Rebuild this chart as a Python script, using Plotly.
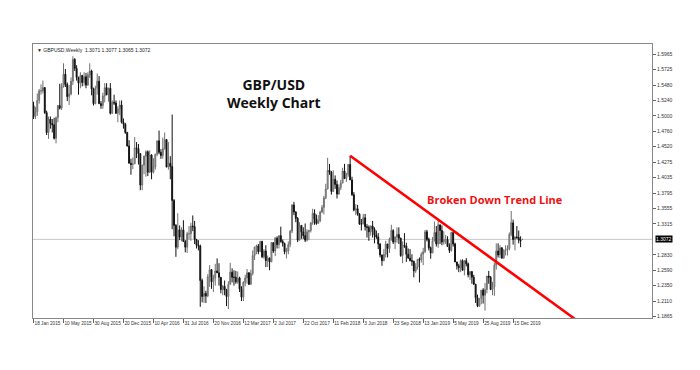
import pandas as pd
import plotly.graph_objects as go

# ---- weekly bars (week starting Sunday), 18 Jan 2015 .. 19 Jan 2020 ----
start_week = "2015-01-18"
opens = [
1.5160,1.4990,1.5060,1.5240,1.5390,1.5390,1.5440,1.5050,1.4740,1.4950,1.4880,1.4860,1.4650,1.4970,1.5160,1.5120,1.5460,1.5650,1.5490,1.5300,
1.5340,1.5540,1.5880,1.5740,1.5600,1.5510,1.5630,1.5520,1.5610,1.5480,1.5640,1.5700,1.5420,1.5190,1.5430,1.5540,1.5190,1.5160,1.5310,1.5440,
1.5330,1.5430,1.5040,1.5210,1.5200,1.5040,1.5110,1.5170,1.4900,1.4870,1.4740,1.4530,1.4260,1.4240,1.4250,1.4500,1.4490,1.4410,1.3920,1.4230,
1.4370,1.4440,1.4120,1.4390,1.4120,1.4200,1.4400,1.4610,1.4430,1.4380,1.4490,1.4630,1.4200,1.4260,1.4210,1.3680,1.3290,1.2950,1.3220,1.3110,
1.3220,1.3040,1.2950,1.3160,1.3160,1.3280,1.3270,1.3070,1.2980,1.2970,1.2430,1.2180,1.2230,1.2190,1.2490,1.2600,1.2410,1.2470,1.2580,1.2550,
1.2480,1.2290,1.2340,1.2280,1.2180,1.2370,1.2560,1.2480,1.2480,1.2410,1.2470,1.2300,1.2170,1.2400,1.2470,1.2550,1.2370,1.2540,1.2820,1.2950,
1.2970,1.2880,1.3040,1.2800,1.2890,1.2740,1.2780,1.2720,1.3020,1.2890,1.3090,1.2990,1.3130,1.3040,1.3010,1.2880,1.2890,1.2990,1.3200,1.3610,
1.3500,1.3400,1.3060,1.3290,1.3190,1.3130,1.3060,1.3190,1.3210,1.3330,1.3480,1.3390,1.3320,1.3360,1.3500,1.3570,1.3720,1.3860,1.4150,1.4120,
1.3820,1.4010,1.3930,1.3780,1.3880,1.3950,1.4140,1.4020,1.4090,1.4240,1.4000,1.3770,1.3530,1.3550,1.3470,1.3310,1.3310,1.3410,1.3270,1.3260,
1.3190,1.3280,1.3230,1.3140,1.3110,1.3000,1.2830,1.2740,1.2840,1.3000,1.2930,1.3080,1.3210,1.3030,1.3110,1.3150,1.3090,1.2820,1.2980,1.2970,
1.2840,1.2780,1.2740,1.2730,1.2580,1.2640,1.2760,1.2750,1.2840,1.2880,1.3190,1.3070,1.2940,1.2860,1.3050,1.3180,1.3000,1.3300,1.3210,1.3030,
1.3070,1.3070,1.2960,1.2900,1.3180,1.3000,1.2720,1.2660,1.2630,1.2740,1.2590,1.2740,1.2690,1.2520,1.2570,1.2480,1.2370,1.2160,1.2030,1.2150,
1.2280,1.2200,1.2290,1.2500,1.2480,1.2290,1.2330,1.2670,1.2890,1.2830,1.2940,1.2780,1.2900,1.2910,1.2930,1.3150,1.3330,1.3070,1.3110,1.3100,
1.3060,1.3071]
highs = [
1.5220,1.5140,1.5350,1.5420,1.5490,1.5550,1.5450,1.5080,1.4990,1.4990,1.4950,1.4970,1.4990,1.5170,1.5500,1.5510,1.5820,1.5730,1.5520,1.5480,
1.5600,1.5930,1.5900,1.5790,1.5610,1.5680,1.5640,1.5680,1.5670,1.5680,1.5820,1.5720,1.5440,1.5470,1.5660,1.5620,1.5230,1.5360,1.5510,1.5510,
1.5440,1.5510,1.5240,1.5330,1.5240,1.5150,1.5240,1.5240,1.4960,1.4890,1.4750,1.4620,1.4330,1.4350,1.4670,1.4590,1.4560,1.4420,1.4240,1.4380,
1.4460,1.4460,1.4460,1.4400,1.4340,1.4410,1.4610,1.4770,1.4480,1.4660,1.4740,1.4630,1.4590,1.4370,1.5020,1.3700,1.3310,1.3480,1.3290,1.3260,
1.3370,1.3060,1.3190,1.3280,1.3330,1.3445,1.3360,1.3080,1.3060,1.2990,1.2460,1.2340,1.2270,1.2530,1.2670,1.2610,1.2520,1.2690,1.2775,1.2700,
1.2480,1.2360,1.2430,1.2300,1.2420,1.2706,1.2620,1.2590,1.2580,1.2570,1.2490,1.2340,1.2420,1.2520,1.2610,1.2560,1.2600,1.2900,1.2960,1.2990,
1.3000,1.3050,1.3050,1.2920,1.2980,1.2820,1.2790,1.3030,1.3030,1.3110,1.3120,1.3130,1.3270,1.3070,1.3020,1.2940,1.3040,1.3220,1.3620,1.3657,
1.3510,1.3420,1.3340,1.3290,1.3260,1.3320,1.3230,1.3220,1.3340,1.3550,1.3540,1.3460,1.3450,1.3520,1.3610,1.3750,1.3940,1.4345,1.4250,1.4140,
1.4150,1.4070,1.3990,1.3930,1.4000,1.4190,1.4250,1.4110,1.4250,1.4377,1.4050,1.3810,1.3620,1.3610,1.3480,1.3390,1.3470,1.3470,1.3310,1.3290,
1.3290,1.3360,1.3260,1.3210,1.3170,1.3010,1.2830,1.2920,1.3050,1.3000,1.3100,1.3300,1.3230,1.3120,1.3260,1.3260,1.3100,1.3040,1.3170,1.3020,
1.2930,1.2920,1.2840,1.2740,1.2700,1.2740,1.2790,1.2870,1.2940,1.3220,1.3220,1.3100,1.2960,1.3110,1.3350,1.3280,1.3380,1.3300,1.3290,1.3200,
1.3140,1.3120,1.3010,1.3180,1.3180,1.3020,1.2720,1.2690,1.2760,1.2760,1.2750,1.2780,1.2710,1.2570,1.2570,1.2520,1.2380,1.2210,1.2160,1.2280,
1.2310,1.2390,1.2500,1.2580,1.2500,1.2410,1.2710,1.3010,1.3010,1.2980,1.2950,1.2920,1.2980,1.2980,1.3180,1.3515,1.3380,1.3120,1.3280,1.3210,
1.3120,1.3077]
lows = [
1.4950,1.4950,1.5000,1.5190,1.5330,1.5350,1.5030,1.4700,1.4640,1.4800,1.4740,1.4630,1.4570,1.4900,1.5100,1.5090,1.5440,1.5450,1.5230,1.5170,
1.5320,1.5480,1.5700,1.5550,1.5330,1.5430,1.5460,1.5470,1.5430,1.5470,1.5590,1.5320,1.5160,1.5180,1.5330,1.5190,1.5110,1.5110,1.5210,1.5320,
1.5220,1.5020,1.5030,1.5170,1.5030,1.4900,1.5010,1.4880,1.4800,1.4720,1.4520,1.4260,1.4080,1.4170,1.4250,1.4340,1.4240,1.3840,1.3840,1.4090,
1.4050,1.4060,1.4110,1.4010,1.4100,1.4160,1.4370,1.4400,1.4330,1.4330,1.4470,1.4200,1.4160,1.4010,1.3230,1.3120,1.2800,1.2920,1.3060,1.3040,
1.3030,1.2870,1.2860,1.3070,1.3050,1.3200,1.3000,1.2930,1.2900,1.2020,1.2090,1.2080,1.2080,1.2170,1.2330,1.2300,1.2250,1.2350,1.2560,1.2350,
1.2230,1.2200,1.2200,1.2030,1.1985,1.2370,1.2400,1.2350,1.2380,1.2380,1.2250,1.2110,1.2110,1.2340,1.2380,1.2360,1.2370,1.2510,1.2750,1.2840,
1.2840,1.2880,1.2780,1.2770,1.2640,1.2640,1.2590,1.2720,1.2860,1.2810,1.2930,1.2930,1.3020,1.2960,1.2840,1.2775,1.2840,1.2950,1.3170,1.3450,
1.3340,1.3030,1.3060,1.3080,1.3080,1.3030,1.3040,1.3060,1.3180,1.3300,1.3300,1.3300,1.3320,1.3340,1.3480,1.3460,1.3700,1.3850,1.4080,1.3770,
1.3810,1.3860,1.3710,1.3770,1.3840,1.3950,1.4020,1.3970,1.4050,1.4000,1.3750,1.3510,1.3450,1.3440,1.3300,1.3210,1.3310,1.3210,1.3100,1.3050,
1.3130,1.3100,1.3010,1.3080,1.2920,1.2790,1.2660,1.2730,1.2790,1.2790,1.2860,1.3050,1.3000,1.2920,1.3020,1.3000,1.2800,1.2700,1.2940,1.2720,
1.2770,1.2730,1.2660,1.2480,1.2550,1.2600,1.2400,1.2710,1.2670,1.2860,1.3040,1.2900,1.2770,1.2860,1.3040,1.2960,1.2940,1.3000,1.2980,1.2990,
1.3000,1.2960,1.2860,1.2880,1.2960,1.2730,1.2600,1.2560,1.2560,1.2580,1.2510,1.2650,1.2480,1.2440,1.2380,1.2370,1.2080,1.2015,1.2020,1.2060,
1.2070,1.1960,1.2230,1.2380,1.2280,1.2200,1.2190,1.2600,1.2790,1.2780,1.2770,1.2770,1.2820,1.2820,1.2900,1.3120,1.2990,1.2900,1.3080,1.3010,
1.2950,1.3065]
closes = [
1.4990,1.5060,1.5240,1.5390,1.5390,1.5440,1.5050,1.4740,1.4950,1.4880,1.4860,1.4650,1.4970,1.5160,1.5120,1.5460,1.5650,1.5490,1.5300,1.5340,
1.5540,1.5880,1.5740,1.5600,1.5510,1.5630,1.5520,1.5610,1.5480,1.5640,1.5700,1.5420,1.5190,1.5430,1.5540,1.5190,1.5160,1.5310,1.5440,1.5330,
1.5430,1.5040,1.5210,1.5200,1.5040,1.5110,1.5170,1.4900,1.4870,1.4740,1.4530,1.4260,1.4240,1.4250,1.4500,1.4490,1.4410,1.3920,1.4230,1.4370,
1.4440,1.4120,1.4390,1.4120,1.4200,1.4400,1.4610,1.4430,1.4380,1.4490,1.4630,1.4200,1.4260,1.4210,1.3680,1.3290,1.2950,1.3220,1.3110,1.3220,
1.3040,1.2950,1.3160,1.3160,1.3280,1.3270,1.3070,1.2980,1.2970,1.2430,1.2180,1.2230,1.2190,1.2490,1.2600,1.2410,1.2470,1.2580,1.2550,1.2480,
1.2290,1.2340,1.2280,1.2180,1.2370,1.2560,1.2480,1.2480,1.2410,1.2470,1.2300,1.2170,1.2400,1.2470,1.2550,1.2370,1.2540,1.2820,1.2950,1.2970,
1.2880,1.3040,1.2800,1.2890,1.2740,1.2780,1.2720,1.3020,1.2890,1.3090,1.2990,1.3130,1.3040,1.3010,1.2880,1.2890,1.2990,1.3200,1.3610,1.3500,
1.3400,1.3060,1.3290,1.3190,1.3130,1.3060,1.3190,1.3210,1.3330,1.3480,1.3390,1.3320,1.3360,1.3500,1.3570,1.3720,1.3860,1.4150,1.4120,1.3820,
1.4010,1.3930,1.3780,1.3880,1.3950,1.4140,1.4020,1.4090,1.4240,1.4000,1.3770,1.3530,1.3550,1.3470,1.3310,1.3310,1.3410,1.3270,1.3260,1.3190,
1.3280,1.3230,1.3140,1.3110,1.3000,1.2830,1.2740,1.2840,1.3000,1.2930,1.3080,1.3210,1.3030,1.3110,1.3150,1.3090,1.2820,1.2980,1.2970,1.2840,
1.2780,1.2740,1.2730,1.2580,1.2640,1.2760,1.2750,1.2840,1.2880,1.3190,1.3070,1.2940,1.2860,1.3050,1.3180,1.3000,1.3300,1.3210,1.3030,1.3070,
1.3070,1.2960,1.2900,1.3180,1.3000,1.2720,1.2660,1.2630,1.2740,1.2590,1.2740,1.2690,1.2520,1.2570,1.2480,1.2370,1.2160,1.2030,1.2150,1.2280,
1.2200,1.2290,1.2500,1.2480,1.2290,1.2330,1.2670,1.2890,1.2830,1.2940,1.2780,1.2900,1.2910,1.2930,1.3150,1.3330,1.3070,1.3110,1.3100,1.3060,
1.3050,1.3072]

weeks = pd.date_range(start_week, periods=len(closes), freq="7D")

# ---- axis ticks ----
x_tick_dates = ["2015-01-18", "2015-05-10", "2015-08-30", "2015-12-20", "2016-04-10", "2016-07-31",
                "2016-11-20", "2017-03-12", "2017-07-02", "2017-10-22", "2018-02-11", "2018-06-03",
                "2018-09-23", "2019-01-13", "2019-05-05", "2019-08-25", "2019-12-15"]
x_tick_labels = ["18 Jan 2015", "10 May 2015", "30 Aug 2015", "20 Dec 2015", "10 Apr 2016", "31 Jul 2016",
                 "20 Nov 2016", "12 Mar 2017", "2 Jul 2017", "22 Oct 2017", "11 Feb 2018", "3 Jun 2018",
                 "23 Sep 2018", "13 Jan 2019", "5 May 2019", "25 Aug 2019", "15 Dec 2019"]
y_ticks = [1.5965, 1.5725, 1.5480, 1.5240, 1.5000, 1.4760, 1.4520, 1.4275, 1.4035,
           1.3795, 1.3555, 1.3315, 1.2830, 1.2590, 1.2350, 1.2110, 1.1865]
current_price = 1.3072
header = "\u25BC GBPUSD,Weekly  1.3071 1.3077 1.3065 1.3072"

# ---- trend line (through Apr-2018 and Mar-2019 highs, extended) ----
trend_dates = ["2018-04-15", "2020-08-02"]
trend_prices = [1.4377, 1.1830]

fig = go.Figure()
fig.add_trace(go.Candlestick(
    x=weeks, open=opens, high=highs, low=lows, close=closes,
    increasing=dict(line=dict(color="#707070", width=1), fillcolor="#b8b8b8"),
    decreasing=dict(line=dict(color="#111111", width=1), fillcolor="#111111"),
    whiskerwidth=0, showlegend=False, hoverinfo="skip"))

fig.add_trace(go.Scatter(x=trend_dates, y=trend_prices, mode="lines",
                         line=dict(color="#ff0000", width=2.6), showlegend=False, hoverinfo="skip"))

fig.add_shape(type="line", xref="paper", x0=0, x1=1, yref="y", y0=current_price, y1=current_price,
              line=dict(color="#c8c8c8", width=1), layer="below")

fig.add_annotation(xref="paper", yref="y", x=1, y=current_price, xanchor="left", yanchor="middle",
                   xshift=3, text=f"{current_price:.4f}", showarrow=False, bgcolor="#000000",
                   font=dict(color="#ffffff", size=5, family="Liberation Sans"), borderpad=0)
fig.add_annotation(xref="paper", yref="paper", x=0, y=1, xanchor="left", yanchor="top", xshift=2, yshift=-1,
                   text=header, showarrow=False, font=dict(size=5, color="#222222", family="Liberation Sans"))
fig.add_annotation(xref="paper", yref="paper", x=0.389, y=0.821, text="<b>GBP/USD</b><br><b>Weekly Chart</b>",
                   showarrow=False, align="center", xanchor="center", yanchor="middle",
                   font=dict(size=14, color="#111111", family="Open Sans"))
fig.add_annotation(xref="paper", yref="paper", x=0.747, y=0.433, text="<b>Broken Down Trend Line</b>",
                   showarrow=False, xanchor="center", yanchor="middle",
                   font=dict(size=11, color="#ee1111", family="Open Sans"))

# page body has an 8px default margin, so margins are set to place the plot frame at 33..652 x 44..318
fig.update_layout(
    width=692, height=362, margin=dict(l=25, r=48, t=36, b=52, autoexpand=False),
    paper_bgcolor="#ffffff", plot_bgcolor="#ffffff",
    xaxis=dict(range=["2015-01-16", "2021-05-17"], rangeslider=dict(visible=False),
               tickvals=x_tick_dates, ticktext=x_tick_labels, ticks="outside", ticklen=4,
               tickcolor="#666666", ticklabelposition="outside right", tickangle=0, automargin=False,
               tickfont=dict(size=4.7, color="#333333", family="Liberation Sans"),
               showgrid=False, showline=True, linecolor="#888888", linewidth=1, mirror=True, zeroline=False),
    yaxis=dict(range=[1.1845, 1.6121], side="right", tickvals=y_ticks, automargin=False,
               ticktext=[f"{v:.4f}" for v in y_ticks], ticks="outside", ticklen=3, tickcolor="#666666",
               tickfont=dict(size=5, color="#333333", family="Liberation Sans"),
               showgrid=False, showline=True, linecolor="#888888", linewidth=1, mirror=True, zeroline=False),
)

fig.write_html("out.html")
